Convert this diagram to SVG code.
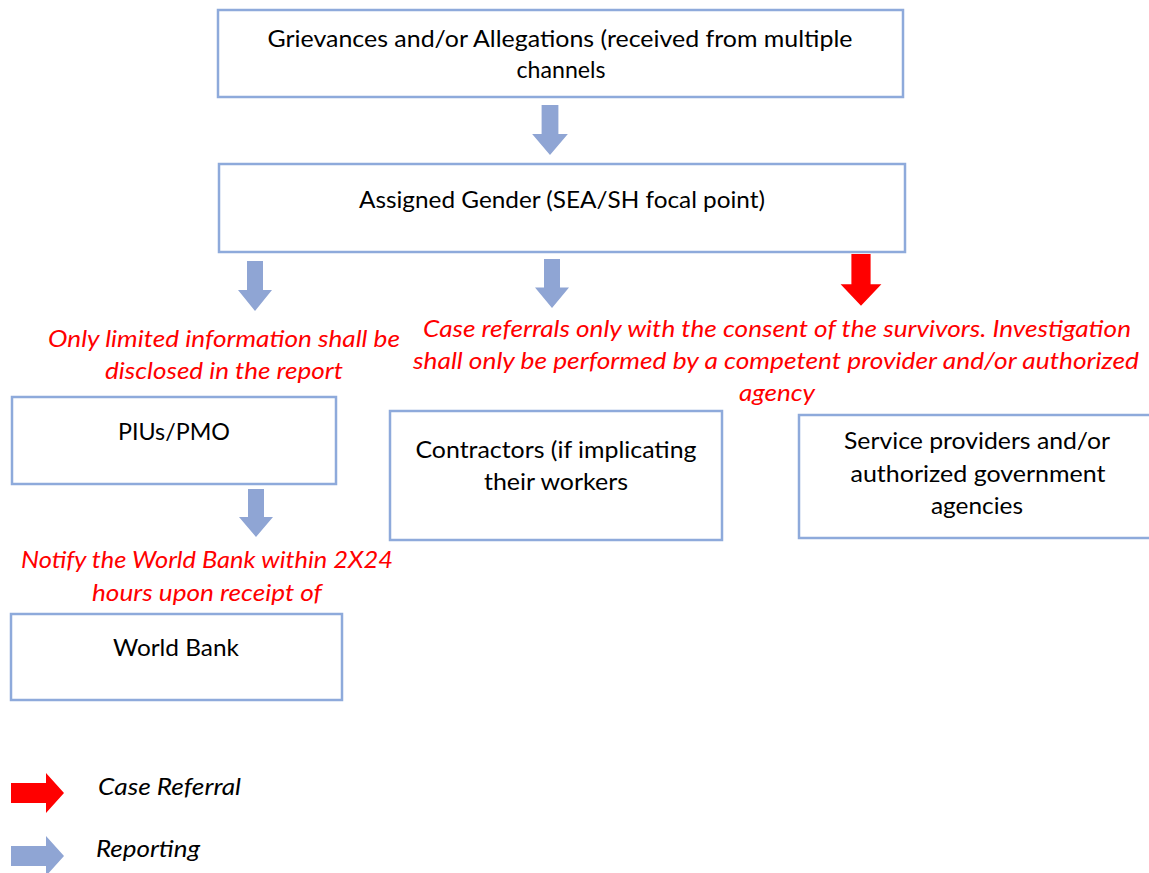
<svg xmlns="http://www.w3.org/2000/svg" width="1149" height="873" viewBox="0 0 1149 873">
  <style>
    .box { fill: #ffffff; stroke: #8eaadb; stroke-width: 2.5; }
    .lbl { font-family: Lato, "Noto Sans", "Liberation Sans", sans-serif; font-size: 23px; fill: #000000; text-anchor: middle; }
    .note { font-family: Lato, "Noto Sans", "Liberation Sans", sans-serif; font-size: 23px; font-style: italic; fill: #ff0000; text-anchor: middle; }
    .legend { font-family: Lato, "Noto Sans", "Liberation Sans", sans-serif; font-size: 23px; font-style: italic; fill: #000000; }
    .rep { fill: #8fa5d4; }
    .ref { fill: #ff0000; }
  </style>
  <defs>
    <!-- block arrow pointing down, origin at top-centre -->
    <polygon id="downArrow" points="-8,0 8,0 8,28 17,28 0,48 -17,28 -8,28"/>
    <!-- block arrow pointing right, origin at left-middle -->
    <polygon id="rightArrow" points="0,-10 35,-10 35,-20 53,0 35,20 35,10 0,10"/>
  </defs>

  <rect width="1149" height="873" fill="#ffffff"/>

  <g id="node-grievances">
    <rect class="box" x="218" y="10" width="685" height="87"/>
    <text class="lbl" x="560" y="47" textLength="585" lengthAdjust="spacingAndGlyphs">Grievances and/or Allegations (received from multiple</text>
    <text class="lbl" x="561" y="78" textLength="89" lengthAdjust="spacingAndGlyphs">channels</text>
  </g>

  <g id="node-focal-point">
    <rect class="box" x="219" y="164" width="686" height="88"/>
    <text class="lbl" x="562" y="208" textLength="406" lengthAdjust="spacingAndGlyphs">Assigned Gender (SEA/SH focal point)</text>
  </g>

  <g id="node-piu">
    <rect class="box" x="12" y="397" width="324" height="87"/>
    <text class="lbl" x="174" y="440" textLength="112" lengthAdjust="spacingAndGlyphs">PIUs/PMO</text>
  </g>

  <g id="node-world-bank">
    <rect class="box" x="11" y="614" width="331" height="86"/>
    <text class="lbl" x="176" y="656" textLength="126" lengthAdjust="spacingAndGlyphs">World Bank</text>
  </g>

  <g id="node-contractors">
    <rect class="box" x="390" y="411" width="332" height="129"/>
    <text class="lbl" x="556" y="458" textLength="281" lengthAdjust="spacingAndGlyphs">Contractors (if implicating</text>
    <text class="lbl" x="556" y="490" textLength="144" lengthAdjust="spacingAndGlyphs">their workers</text>
  </g>

  <g id="node-service-providers">
    <rect class="box" x="799" y="415" width="360" height="123"/>
    <text class="lbl" x="977" y="449" textLength="266" lengthAdjust="spacingAndGlyphs">Service providers and/or</text>
    <text class="lbl" x="978" y="482" textLength="255" lengthAdjust="spacingAndGlyphs">authorized government</text>
    <text class="lbl" x="977" y="514" textLength="92" lengthAdjust="spacingAndGlyphs">agencies</text>
  </g>

  <g id="notes">
    <text class="note" x="224" y="347" textLength="352" lengthAdjust="spacingAndGlyphs">Only limited information shall be</text>
    <text class="note" x="224" y="379" textLength="238" lengthAdjust="spacingAndGlyphs">disclosed in the report</text>
    <text class="note" x="777" y="337" textLength="708" lengthAdjust="spacingAndGlyphs">Case referrals only with the consent of the survivors. Investigation</text>
    <text class="note" x="776" y="369" textLength="726" lengthAdjust="spacingAndGlyphs">shall only be performed by a competent provider and/or authorized</text>
    <text class="note" x="777" y="401" textLength="76" lengthAdjust="spacingAndGlyphs">agency</text>
    <text class="note" x="207" y="568" textLength="372" lengthAdjust="spacingAndGlyphs">Notify the World Bank within 2X24</text>
    <text class="note" x="207" y="601" textLength="230" lengthAdjust="spacingAndGlyphs">hours upon receipt of</text>
  </g>

  <g id="connectors">
    <use href="#downArrow" class="rep" transform="translate(550,105) scale(1.05,1.04)"/>
    <use href="#downArrow" class="rep" transform="translate(255,261) scale(1,1.04)"/>
    <use href="#downArrow" class="rep" transform="translate(552,259) scale(1,1.02)"/>
    <use href="#downArrow" class="ref" transform="translate(861,254) scale(1.2,1.08)"/>
    <use href="#downArrow" class="rep" transform="translate(256,489) scale(1,1)"/>
  </g>

  <g id="legend">
    <use href="#rightArrow" class="ref" transform="translate(11,793)"/>
    <text class="legend" x="98" y="795" textLength="143" lengthAdjust="spacingAndGlyphs">Case Referral</text>
    <use href="#rightArrow" class="rep" transform="translate(11,856)"/>
    <text class="legend" x="96" y="857" textLength="104" lengthAdjust="spacingAndGlyphs">Reporting</text>
  </g>
</svg>
